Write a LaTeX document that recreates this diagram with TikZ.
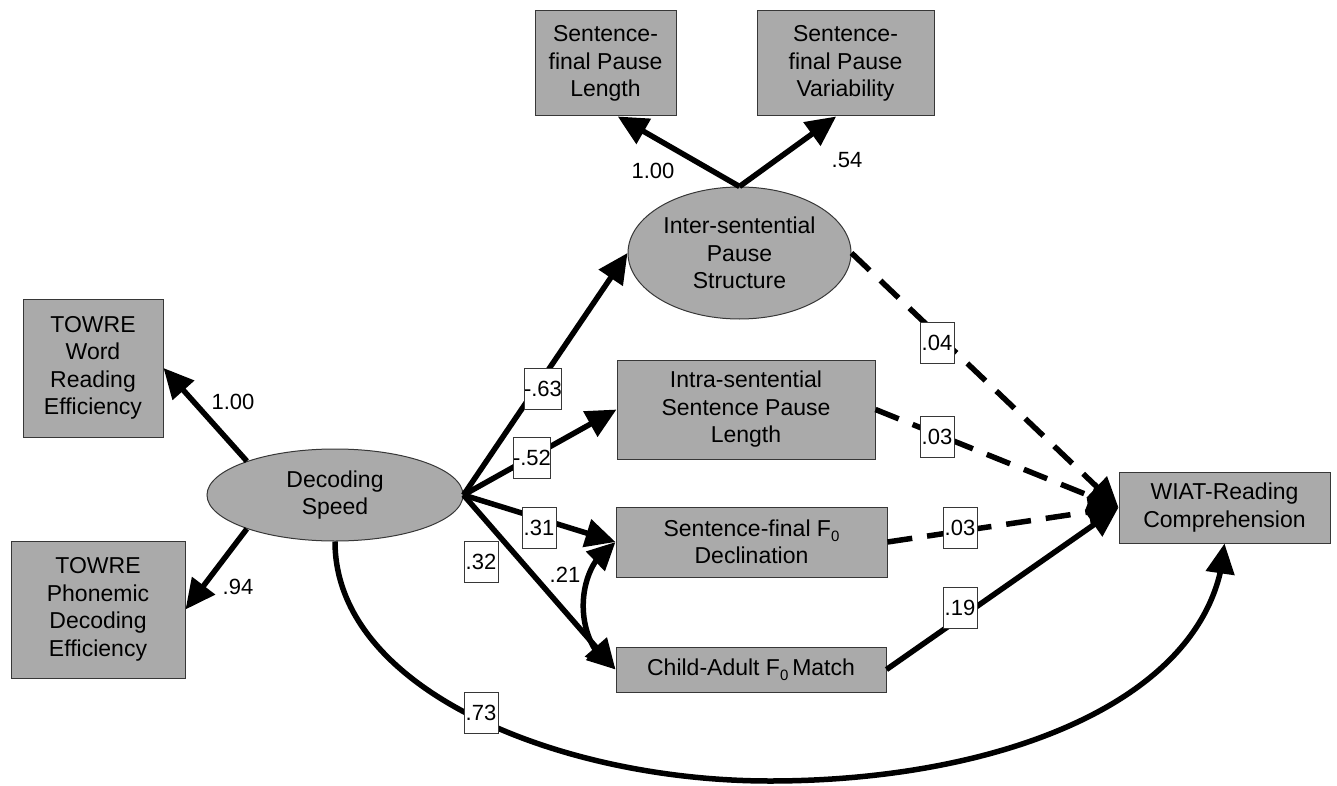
\documentclass[tikz,border=0pt]{standalone}
\usepackage{fontspec}
\usetikzlibrary{arrows.meta,shapes.geometric,bending}
\newfontfamily\arialf{Liberation Sans}
\newcommand{\nodefont}{\arialf\fontsize{23}{27.5}\selectfont}
\newcommand{\coeffont}{\arialf\fontsize{22}{24}\selectfont}
\newcommand{\Fz}{F\raisebox{-0.4ex}{\fontsize{15}{15}\selectfont 0}}
\definecolor{boxgray}{RGB}{170,170,170}
\definecolor{edgegray}{RGB}{55,55,55}
\tikzset{
  obs/.style={rectangle, draw=edgegray, line width=1pt, fill=boxgray, inner sep=0pt, align=center, font=\nodefont},
  lat/.style={obs, ellipse},
  coef/.style={rectangle, draw=edgegray, line width=1pt, fill=white, minimum width=34pt, minimum height=41pt, inner sep=0pt, font=\coeffont},
  coeftxt/.style={inner sep=0pt, font=\coeffont},
  arr/.style={line width=5.5pt, -{Triangle[length=30pt,width=28pt]}},
  darr/.style={arr, dash pattern=on 25pt off 15pt},
  biarr/.style={line width=5.5pt, {Triangle[length=28pt,width=26pt]}-{Triangle[length=28pt,width=26pt]}},
}
\begin{document}
\begin{tikzpicture}[x=1pt,y=-1pt]
\useasboundingbox (0,0) rectangle (1337,786);
% nodes
\node[obs, minimum width=141pt, minimum height=105pt] (sfpl) at (605.5,63.5) {Sentence-\\final Pause\\Length};
\node[obs, minimum width=177pt, minimum height=105pt] (sfpv) at (845.5,63.5) {Sentence-\\final Pause\\Variability};
\node[lat, minimum width=223pt, minimum height=132pt] (inter) at (739.5,253) {Inter-sentential\\Pause\\Structure};
\node[obs, minimum width=140pt, minimum height=138pt] (tw) at (93,368) {TOWRE\\Word\\Reading\\Efficiency};
\node[obs, minimum width=174pt, minimum height=137pt] (tp) at (98,609.5) {TOWRE\\Phonemic\\Decoding\\Efficiency};
\node[lat, minimum width=256pt, minimum height=92pt] (dec) at (335,495) {Decoding\\Speed};
\node[obs, minimum width=258pt, minimum height=99pt] (intra) at (746,409.5) {Intra-sentential\\Sentence Pause\\Length};
\node[obs, minimum width=271pt, minimum height=70pt] (sfd) at (751.5,542) {Sentence-final \Fz\\Declination};
\node[obs, minimum width=270pt, minimum height=45pt] (child) at (751,669.5) {Child-Adult \Fz\,Match};
\node[obs, minimum width=211pt, minimum height=71pt] (wiat) at (1224.5,507.5) {WIAT-Reading\\Comprehension};
\coordinate (bot) at (770,781);
% edges
\draw[arr] (inter.north) -- (sfpl.-77);
\draw[arr] (inter.north) -- (sfpv.-100);
\draw[arr] (dec.159) -- (tw.east);
\draw[arr] (dec.201) -- (tp.east);
\draw[arr] (dec.east) -- (inter.west);
\draw[arr] (dec.east) -- (intra.west);
\draw[arr] (dec.east) -- (sfd.west);
\draw[arr] (dec.east) -- (child.west);
\draw[biarr] (sfd.west) to[bend right=60] (child.west);
\draw[darr] (inter.east) -- (wiat.west);
\draw[darr] (intra.east) -- (wiat.west);
\draw[darr] (sfd.east) -- (wiat.west);
\draw[arr] (child.east) -- (wiat.west);
\draw[arr] (dec.south) .. controls (335,690) and (560,781) .. (bot) .. controls (1000,781) and (1215,700) .. (wiat.south);
% coefficients
\node[coeftxt] (c1) at (653,171) {1.00};
\node[coeftxt] (c2) at (847,160) {.54};
\node[coeftxt] (c3) at (233,402) {1.00};
\node[coeftxt] (c4) at (238,587) {.94};
\node[coeftxt] (c5) at (565,575) {.21};
\node[coef] (c6) at (543,389) {-.63};
\node[coef] (c7) at (532,458) {-.52};
\node[coef] (c8) at (539,528) {.31};
\node[coef] (c9) at (481,562) {.32};
\node[coef] (c10) at (937,343) {.04};
\node[coef] (c11) at (937,437) {.03};
\node[coef] (c12) at (960,528) {.03};
\node[coef] (c13) at (960,608) {.19};
\node[coef] (c14) at (481,713) {.73};
\end{tikzpicture}
\end{document}
